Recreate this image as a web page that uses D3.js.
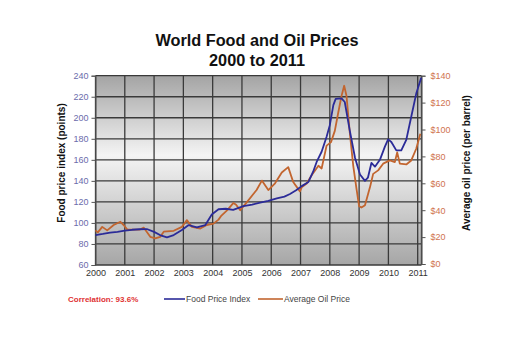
<!DOCTYPE html>
<html><head><meta charset="utf-8">
<script src="https://cdn.jsdelivr.net/npm/d3@7"></script>
<style>body{margin:0;background:#fff;}svg{display:block;font-family:"Liberation Sans",Arial,sans-serif;}</style>
</head><body>
<svg id="c" width="517" height="355"></svg>
<script>
const yearTicks = [2000,2001,2002,2003,2004,2005,2006,2007,2008,2009,2010,2011];
const foodTicks = [60,80,100,120,140,160,180,200,220,240];
const oilTicks = [0,20,40,60,80,100,120,140];

const foodDates = [2000.0,2000.25,2000.5,2000.75,2001.0,2001.25,2001.5,2001.75,2002.0,2002.2,2002.44,2002.67,2002.95,2003.18,2003.46,2003.75,2003.97,2004.2,2004.45,2004.7,2005.05,2005.35,2005.62,2005.9,2006.19,2006.45,2006.64,2006.85,2007.04,2007.27,2007.43,2007.55,2007.72,2007.89,2008.0,2008.12,2008.2,2008.4,2008.51,2008.68,2008.86,2009.03,2009.2,2009.3,2009.42,2009.54,2009.71,2009.88,2009.99,2010.1,2010.27,2010.44,2010.61,2010.78,2010.95,2011.12];
const foodValues = [88.5,89.5,90.7,91.5,92.6,93.5,94,94.2,91.5,88.5,86.3,88.5,93.3,98,95.8,98,108,113,113.5,112.5,116,117.5,119.3,121,123.4,125,127.5,131,135,139,148.7,158,167.7,182,193,212,218,218.5,215,188,162,146,140,143,157,153.5,160,172.5,179.5,177,169,169,179,201,223,238];

const oilDates = [2000.0,2000.08,2000.23,2000.4,2000.62,2000.85,2000.96,2001.08,2001.3,2001.5,2001.65,2001.87,2002.04,2002.21,2002.33,2002.67,2002.95,2003.12,2003.29,2003.58,2003.8,2004.03,2004.2,2004.3,2004.5,2004.71,2004.8,2004.94,2005.17,2005.39,2005.5,2005.68,2005.9,2006.13,2006.36,2006.58,2006.75,2006.98,2007.04,2007.21,2007.38,2007.61,2007.72,2007.89,2008.04,2008.17,2008.29,2008.4,2008.49,2008.57,2008.68,2008.8,2008.91,2009.0,2009.08,2009.2,2009.37,2009.48,2009.65,2009.82,2010.05,2010.22,2010.3,2010.39,2010.61,2010.78,2010.95,2011.09];
const oilValues = [25,23.5,27.6,25,29,31.4,29,25.7,25.5,25.5,27,20.2,19,20.2,24,24.7,27.6,32.6,27.6,26.4,29,30,33,36,40,45.4,44,40,46,52,55,62,55,60,68,72,61,54,57,59.8,66,73,71,88,90.6,99,112.8,125,132.5,125,98,73,56,43,42,43.7,57,67,69.6,74.6,77,75.8,83,74.6,74,77,85.7,96.8];

const svg = d3.select('#c');
const L = 95.5, R = 421.5, T = 75.7, B = 265;
const x = d3.scaleLinear().domain([2000, 2011.13]).range([L, R]);
const yF = d3.scaleLinear().domain([60, 240]).range([B, T]);
const yO = d3.scaleLinear().domain([0, 140]).range([B - 1, T]);

const defs = svg.append('defs');
const g = defs.append('linearGradient').attr('id','bg').attr('x1',0).attr('x2',0).attr('y1',0).attr('y2',1);
g.append('stop').attr('offset','0%').attr('stop-color','#a4a4a4');
g.append('stop').attr('offset','42%').attr('stop-color','#f4f4f4');
g.append('stop').attr('offset','100%').attr('stop-color','#a6a6a6');

svg.append('rect').attr('x',L).attr('y',T).attr('width',R-L).attr('height',B-T).attr('fill','url(#bg)');

// grid
svg.append('g').selectAll('line').data(yearTicks).join('line')
  .attr('x1',d=>x(d)).attr('x2',d=>x(d)).attr('y1',T).attr('y2',B)
  .attr('stroke','#3a3a3a').attr('stroke-width',1.3);
svg.append('g').selectAll('line').data(foodTicks).join('line')
  .attr('x1',L).attr('x2',R).attr('y1',d=>yF(d)).attr('y2',d=>yF(d))
  .attr('stroke','#3a3a3a').attr('stroke-width',1.3);
svg.append('line').attr('x1',R).attr('x2',R).attr('y1',T).attr('y2',B).attr('stroke','#444').attr('stroke-width',1.3);

// left axis
const axL = svg.append('g').attr('transform',`translate(${L},0)`)
  .call(d3.axisLeft(yF).tickValues(foodTicks).tickSize(4).tickPadding(3));
axL.select('.domain').attr('stroke','#555');
axL.selectAll('.tick line').attr('stroke','#555');
axL.selectAll('text').attr('fill','#6b6bab').attr('font-size',9).attr('font-family','Liberation Sans, Arial, sans-serif');

// right axis
const axR = svg.append('g').attr('transform',`translate(${R},0)`)
  .call(d3.axisRight(yO).tickValues(oilTicks).tickSize(4).tickPadding(5).tickFormat(d=>'$'+d));
axR.select('.domain').attr('stroke','#555');
axR.selectAll('.tick line').attr('stroke','#555');
axR.selectAll('text').attr('fill','#d0734f').attr('font-size',9).attr('font-family','Liberation Sans, Arial, sans-serif');

// bottom axis labels
const axB = svg.append('g').attr('transform',`translate(0,${B})`)
  .call(d3.axisBottom(x).tickValues(yearTicks).tickSize(0).tickPadding(5).tickFormat(d3.format('d')));
axB.select('.domain').remove();
axB.selectAll('text').attr('fill','#333').attr('font-size',9).attr('font-family','Liberation Sans, Arial, sans-serif');

// lines
const foodData = foodDates.map((d,i)=>[d, foodValues[i]]);
const oilData = oilDates.map((d,i)=>[d, oilValues[i]]);
svg.append('path').datum(oilData)
  .attr('d', d3.line().x(d=>x(d[0])).y(d=>yO(d[1])))
  .attr('fill','none').attr('stroke','#c2652f').attr('stroke-width',1.8).attr('stroke-linejoin','round');
svg.append('path').datum(foodData)
  .attr('d', d3.line().x(d=>x(d[0])).y(d=>yF(d[1])))
  .attr('fill','none').attr('stroke','#2b2b98').attr('stroke-width',1.8).attr('stroke-linejoin','round');

// titles
svg.append('text').attr('x',257).attr('y',46).attr('text-anchor','middle')
  .attr('font-weight','bold').attr('font-size',16.3).attr('fill','#111').text('World Food and Oil Prices');
svg.append('text').attr('x',257).attr('y',66).attr('text-anchor','middle')
  .attr('font-weight','bold').attr('font-size',16.3).attr('fill','#111').text('2000 to 2011');

svg.append('text').attr('transform','translate(65,163) rotate(-90)').attr('text-anchor','middle')
  .attr('font-weight','bold').attr('font-size',10).attr('fill','#111').text('Food price index (points)');
svg.append('text').attr('transform','translate(470,163) rotate(-90)').attr('text-anchor','middle')
  .attr('font-weight','bold').attr('font-size',10).attr('fill','#111').text('Average oil price (per barrel)');

// legend
svg.append('text').attr('x',68).attr('y',302).attr('font-weight','bold').attr('font-size',8)
  .attr('fill','#e03232').text('Correlation: 93.6%');
svg.append('line').attr('x1',164).attr('x2',185).attr('y1',299).attr('y2',299).attr('stroke','#2b2b98').attr('stroke-width',1.6);
svg.append('text').attr('x',186).attr('y',302).attr('font-size',8.5).attr('fill','#444').text('Food Price Index');
svg.append('line').attr('x1',258).attr('x2',283).attr('y1',299).attr('y2',299).attr('stroke','#c2652f').attr('stroke-width',1.6);
svg.append('text').attr('x',284).attr('y',302).attr('font-size',8.5).attr('fill','#444').text('Average Oil Price');
</script>
</body></html>
